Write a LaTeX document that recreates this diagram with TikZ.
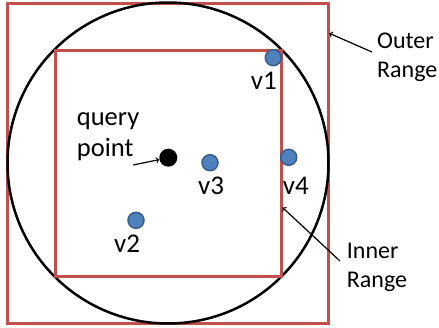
\documentclass[tikz,border=0pt]{standalone}
\usepackage{fontspec}
\setmainfont{Carlito}
\usetikzlibrary{arrows, positioning}
\definecolor{rangered}{HTML}{C0504D}
\definecolor{vfill}{HTML}{4F81BD}
\definecolor{vdraw}{HTML}{385D8A}

\begin{document}
\begin{tikzpicture}[x=1pt, y=-1pt, ->, >=to]
    \tikzstyle{rangebox} = [draw=rangered, line width=3pt, minimum size=0pt, inner sep=0pt]
    \tikzstyle{vpoint} = [circle, fill=vfill, draw=vdraw, line width=1.5pt, minimum size=16pt, inner sep=0pt]
    \tikzstyle{lbl} = [inner sep=0pt, font=\fontsize{24}{29}\selectfont, align=left, anchor=west]
    \tikzstyle{vlbl} = [inner sep=0pt, font=\fontsize{27}{30}\selectfont, anchor=base west]
    \useasboundingbox (0,0) rectangle (439,327);
    \node [rangebox, minimum width=321pt, minimum height=320pt] at (167.5,163) (outer) {};
    \node [draw, circle, line width=2.5pt, minimum size=321pt, inner sep=0pt] at (168,163) (ball) {};
    \node [rangebox, minimum size=226pt] at (168,163) (inner) {};
    \node [circle, fill=black, minimum size=18pt, inner sep=0pt] at (168.3,157.7) (query) {};
    \node [vpoint] at (273.3,57.7) (v1) {};
    \node [vpoint] at (136,220.3) (v2) {};
    \node [vpoint] at (210,162.7) (v3) {};
    \node [vpoint] at (288.7,157.3) (v4) {};
    \node [vlbl] at (250.7,89.3) (v1lbl) {v1};
    \node [vlbl] at (114,252.3) (v2lbl) {v2};
    \node [vlbl] at (198,194.3) (v3lbl) {v3};
    \node [vlbl] at (282.7,194.3) (v4lbl) {v4};
    \node [lbl, font=\fontsize{26.5}{31}\selectfont] at (76.7,137) (querylbl) {query\\point};
    \node [lbl] at (377,57) (outerlbl) {Outer\\Range};
    \node [lbl] at (346.7,267.5) (innerlbl) {Inner\\Range};
    \coordinate (querytail) at (133.3,165);
    \coordinate (outertail) at (372,52);
    \coordinate (outerhead) at (329.3,33.3);
    \coordinate (innertail) at (340,261);
    \coordinate (innerhead) at (282.5,207.5);
    \draw [line width=1.2pt] (querytail) -- (query);
    \draw [line width=1.2pt] (outertail) -- (outerhead);
    \draw [line width=1.2pt] (innertail) -- (innerhead);
\end{tikzpicture}
\end{document}
